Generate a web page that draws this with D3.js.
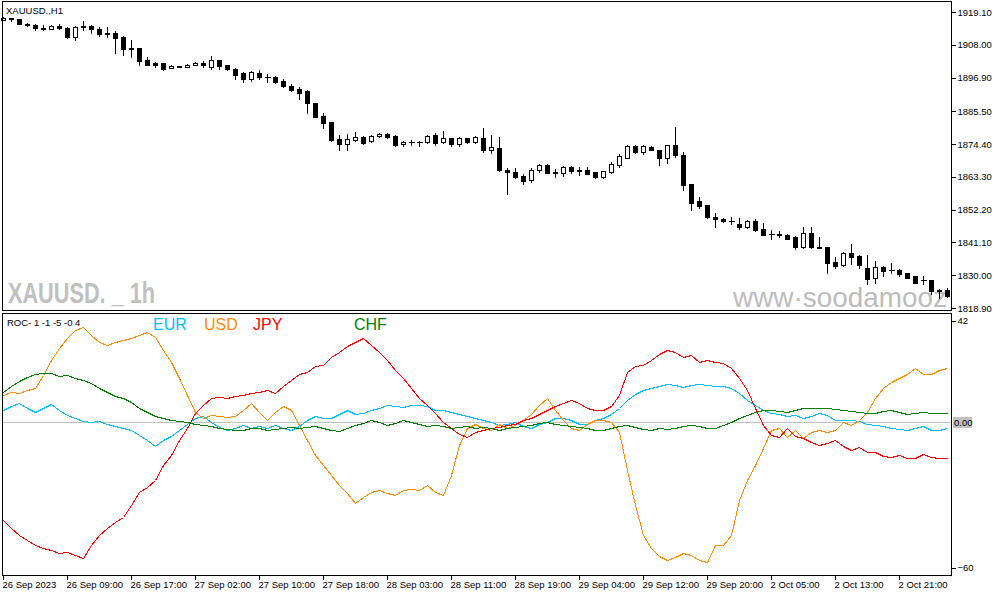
<!DOCTYPE html>
<html><head><meta charset="utf-8">
<script src="https://cdn.jsdelivr.net/npm/d3@7"></script>
<style>
body{margin:0;background:#fff}
svg{display:block}
text{font-family:"Liberation Sans",Arial,sans-serif}
</style>
</head><body>
<svg id="c" width="997" height="596"></svg>
<script>
// ---------------- DATA ----------------
const timeLabels = ["26 Sep 2023","26 Sep 09:00","26 Sep 17:00","27 Sep 02:00","27 Sep 10:00","27 Sep 18:00","28 Sep 03:00","28 Sep 11:00","28 Sep 19:00","29 Sep 04:00","29 Sep 12:00","29 Sep 20:00","2 Oct 05:00","2 Oct 13:00","2 Oct 21:00"];
const priceTicks = [1919.10,1908.00,1896.90,1885.50,1874.40,1863.30,1852.20,1841.10,1830.00,1818.90];
const rocTicks = [42,-60];

const open = [1916.5,1917.0,1916.6,1915.0,1914.6,1913.6,1913.4,1914.4,1913.8,1910.5,
1914.0,1914.2,1913.3,1911.6,1912.1,1910.7,1906.7,1906.9,1902.8,1901.7,
1901.7,1900.1,1900.8,1900.6,1901.3,1901.9,1900.6,1902.9,1901.0,1899.9,
1898.4,1896.4,1898.6,1897.1,1897.1,1895.9,1894.1,1893.2,1892.3,1888.2,
1883.9,1881.8,1876.1,1874.3,1875.9,1876.8,1875.4,1877.1,1877.8,1877.2,
1874.3,1875.0,1875.1,1875.1,1877.4,1875.1,1876.3,1874.4,1876.3,1875.1,
1876.6,1872.5,1873.0,1865.5,1864.8,1863.5,1862.1,1865.5,1867.3,1864.6,
1864.6,1866.6,1865.2,1865.7,1864.8,1863.2,1865.0,1867.3,1869.8,1873.8,
1871.8,1873.5,1872.4,1869.7,1874.0,1870.6,1860.9,1855.0,1853.7,1849.8,
1848.9,1848.5,1847.3,1846.4,1848.5,1845.5,1844.1,1843.8,1843.5,1842.8,
1839.4,1844.4,1839.6,1839.4,1834.5,1833.3,1837.4,1836.5,1832.4,1829.0,
1832.9,1831.6,1831.8,1830.6,1829.6,1828.4,1828.4,1825.1,1825.0];
const high = [1917.3,1917.2,1916.8,1915.4,1915.0,1914.6,1914.7,1914.9,1914.0,1914.2,
1916.2,1914.6,1913.9,1913.9,1912.8,1911.0,1909.6,1907.0,1903.8,1902.2,
1902.0,1901.3,1900.9,1901.6,1902.3,1902.6,1904.1,1903.0,1901.2,1900.0,
1898.9,1899.1,1899.3,1898.0,1897.3,1896.5,1894.7,1893.8,1892.7,1888.2,
1884.8,1881.8,1877.5,1877.8,1878.4,1877.1,1877.3,1878.0,1878.2,1877.5,
1875.5,1875.8,1875.5,1877.4,1878.1,1878.8,1876.5,1876.9,1876.5,1877.2,
1880.0,1877.5,1876.8,1866.2,1866.2,1864.1,1866.4,1867.6,1867.5,1866.0,
1867.1,1867.0,1866.6,1866.5,1865.0,1865.4,1868.3,1871.1,1874.0,1874.0,
1874.0,1873.6,1872.5,1874.1,1880.1,1871.7,1861.0,1856.4,1853.8,1850.9,
1849.4,1849.6,1849.2,1848.7,1849.0,1847.6,1845.3,1844.8,1844.1,1843.3,
1846.2,1846.2,1843.1,1839.5,1836.2,1838.0,1840.6,1836.7,1836.9,1834.8,
1833.2,1834.1,1832.0,1830.7,1829.7,1829.6,1828.5,1825.4,1825.6];
const low = [1916.3,1915.9,1914.9,1914.5,1913.0,1912.9,1913.2,1913.3,1910.2,1909.7,
1913.0,1912.1,1911.1,1910.5,1905.3,1904.6,1903.9,1901.1,1901.0,1900.6,
1899.4,1900.0,1900.4,1900.4,1901.0,1900.4,1899.9,1899.9,1899.4,1896.5,
1895.4,1895.7,1896.4,1895.4,1895.1,1893.8,1892.4,1889.7,1884.8,1883.6,
1879.9,1875.5,1872.5,1872.5,1875.6,1874.4,1875.1,1876.8,1876.6,1873.7,
1873.9,1874.1,1873.7,1874.9,1874.1,1874.6,1873.7,1873.9,1874.6,1874.6,
1871.8,1871.4,1865.4,1857.6,1862.8,1860.8,1861.7,1865.0,1864.5,1863.1,
1863.6,1864.7,1864.0,1864.2,1862.9,1862.9,1864.5,1866.5,1869.6,1871.4,
1870.9,1872.3,1867.4,1867.9,1870.1,1858.8,1852.1,1852.8,1849.3,1846.2,
1847.9,1847.3,1845.7,1846.1,1844.9,1843.5,1842.4,1843.1,1842.2,1839.0,
1839.2,1839.2,1839.1,1830.8,1832.6,1833.1,1833.8,1832.3,1827.0,1827.3,
1829.9,1830.9,1829.9,1829.0,1827.2,1827.0,1823.6,1822.2,1822.5];
const close = [1917.0,1916.6,1915.0,1914.6,1913.6,1913.4,1914.4,1913.6,1910.5,1914.0,
1914.2,1913.3,1911.6,1911.9,1910.3,1906.7,1906.9,1902.6,1901.3,1901.1,
1899.9,1900.8,1900.6,1901.3,1901.8,1901.1,1902.8,1900.8,1899.9,1897.9,
1896.4,1898.8,1897.1,1897.0,1895.4,1894.1,1892.7,1891.8,1888.2,1883.7,
1881.6,1875.8,1874.3,1876.1,1876.8,1874.8,1877.0,1877.8,1876.9,1874.1,
1875.0,1875.1,1875.0,1877.2,1874.9,1876.3,1874.4,1876.3,1875.1,1876.7,
1872.5,1873.4,1865.5,1864.8,1863.2,1861.9,1865.7,1867.3,1864.6,1864.8,
1866.6,1865.2,1865.5,1864.4,1863.2,1865.2,1867.8,1870.5,1873.6,1871.6,
1873.6,1872.4,1869.7,1874.0,1870.6,1860.6,1854.6,1853.4,1849.6,1848.9,
1848.3,1848.3,1846.4,1848.5,1845.3,1843.7,1844.0,1843.5,1842.4,1839.4,
1844.4,1839.4,1839.2,1834.0,1833.1,1837.4,1836.3,1833.6,1828.8,1832.9,
1831.5,1831.8,1830.3,1829.2,1827.5,1828.3,1824.8,1824.8,1822.8];

const rocEUR = [4.6,6.1,7.3,5.4,3.8,5.4,6.9,4.6,2.6,1.4,
0.2,-0.2,0.2,-0.9,-1.7,-2.5,-3.3,-5.3,-7.2,-9.6,
-7.2,-5.7,-3.3,-0.9,1.4,2.2,-0.2,-2.1,-3.3,-2.5,
-1.3,-2.5,-1.7,-2.5,-1.3,-2.5,-3.3,-1.7,0.6,2.2,
1.4,1.4,3.0,4.6,3.0,3.4,4.6,5.4,6.5,6.1,
5.7,6.5,6.5,6.1,4.6,4.6,3.8,3.0,2.2,1.4,
0.6,-0.2,-1.3,-0.9,-0.2,-1.7,-2.5,-0.9,-0.2,1.4,
1.4,0.6,-0.9,-0.9,0.6,1.4,3.0,5.4,8.5,10.9,
12.4,13.2,14.0,14.8,14.4,13.6,14.4,14.8,14.4,14.0,
14.0,13.2,11.3,8.5,6.5,4.6,3.4,3.0,2.2,2.6,
1.4,2.2,3.4,2.6,0.6,0.6,0.6,0.2,-0.9,-1.3,
-1.7,-2.5,-2.9,-3.3,-2.5,-1.7,-3.3,-3.3,-2.5];
const rocUSD = [10.5,11.7,11.3,12.4,13.2,18.4,24.3,29.0,32.9,36.1,
37.3,34.1,31.4,30.2,31.4,32.1,32.9,34.1,35.3,33.3,
28.2,23.5,17.2,10.5,3.8,1.4,2.6,2.2,1.8,2.2,
4.6,7.3,3.8,0.6,3.8,6.1,4.6,-1.3,-7.2,-13.2,
-17.1,-21.0,-25.0,-28.1,-32.1,-29.7,-27.7,-26.9,-28.1,-28.9,
-26.9,-26.5,-26.9,-25.0,-27.7,-28.9,-21.0,-9.2,-2.5,-0.9,
-2.5,-3.3,-0.9,-2.5,-1.3,0.6,3.0,6.5,9.3,4.6,
0.6,-2.5,-3.3,-0.9,0.6,0.6,-0.2,-4.1,-19.1,-32.8,
-44.7,-49.8,-52.9,-54.5,-53.3,-51.8,-52.5,-54.5,-55.3,-48.6,
-48.6,-44.7,-30.9,-23.0,-17.1,-10.4,-3.3,-2.5,-6.1,-3.3,
-6.5,-4.1,-3.3,-4.1,-3.3,-0.2,-1.3,0.6,3.8,9.3,
13.2,15.6,17.2,18.7,21.1,18.7,18.7,20.3,21.1];
const rocJPY = [-38.8,-41.9,-44.7,-46.6,-48.6,-49.8,-50.6,-51.8,-51.4,-52.5,
-53.7,-48.6,-44.7,-41.9,-39.5,-37.6,-32.9,-27.7,-25.8,-23.0,
-17.1,-13.2,-7.2,-2.5,3.4,6.5,9.3,9.7,9.3,10.1,
10.5,11.3,11.7,12.4,11.3,14.0,16.4,18.7,19.5,21.9,
22.3,25.4,27.4,29.8,31.4,32.9,30.2,27.4,24.3,20.3,
17.2,13.2,9.3,6.5,3.4,-0.2,-2.5,-4.9,-6.1,-4.1,
-3.3,-2.5,-2.1,-1.3,-0.9,0.6,1.4,3.0,4.6,6.1,
7.3,8.5,7.3,5.4,4.6,4.6,6.1,10.5,19.5,21.9,
22.3,24.3,26.6,28.2,27.4,25.4,26.2,23.5,24.3,23.5,
23.1,21.1,17.2,12.4,5.4,-1.3,-5.3,-6.1,-2.5,-5.7,
-6.5,-8.0,-9.2,-8.4,-7.2,-9.6,-11.2,-10.0,-12.0,-12.0,
-13.6,-13.9,-13.2,-14.3,-14.3,-12.8,-13.9,-14.3,-14.3];
const rocCHF = [11.7,14.0,16.0,17.6,18.7,19.1,19.1,18.0,18.4,17.2,
16.4,15.2,13.2,11.7,10.1,9.3,7.7,5.4,3.8,2.2,
1.4,0.6,0.2,-0.2,-0.9,-1.3,-1.7,-2.5,-2.9,-3.3,
-3.3,-2.5,-2.5,-3.3,-2.9,-2.5,-2.1,-2.5,-2.1,-1.7,
-2.5,-3.3,-3.7,-2.5,-1.3,-0.6,0.6,-0.2,-1.3,-0.6,
0.6,-0.2,-0.9,-1.7,-1.3,-1.7,-2.5,-2.1,-1.7,-2.5,
-2.1,-2.5,-3.3,-2.5,-2.1,-1.7,-1.3,-0.6,-0.2,-0.9,
-1.3,-1.7,-2.1,-2.5,-3.3,-3.3,-2.5,-1.7,-1.3,-2.1,
-2.9,-3.3,-2.5,-2.9,-2.5,-1.7,-1.3,-1.7,-2.5,-2.5,
-1.3,-0.2,1.4,2.6,3.8,4.6,4.6,4.2,3.8,4.6,
5.4,5.4,5.4,5.4,5.0,4.6,4.2,3.8,3.4,3.4,
4.2,4.6,3.8,3.0,3.4,3.8,3.4,3.4,3.4];

const seriesNames = ["EUR","USD","JPY","CHF"];
const seriesColors = ["#00bfff","#ff8c00","#ff0000","#008000"];

// ---------------- CHART ----------------
const svg = d3.select("#c");
const n = open.length;
const x = d3.scaleLinear().domain([0, n - 1]).range([3, 947]);
const yP = d3.scaleLinear().domain([1818.9, 1919.1]).range([308, 12]);
const yR = d3.scaleLinear().domain([-60, 42]).range([574, 315]);

// watermarks
svg.append("text").attr("x", 8).attr("y", 303)
  .attr("font-family", "'Liberation Sans Narrow','Liberation Sans',Arial,sans-serif")
  .attr("font-weight", "bold").attr("font-size", 29).attr("fill", "#c0c0c0")
  .attr("textLength", 147).attr("lengthAdjust", "spacingAndGlyphs")
  .text("XAUUSD. _ 1h");
svg.append("text").attr("x", 733).attr("y", 307)
  .attr("font-size", 28).attr("fill", "#bcbcbc")
  .attr("textLength", 214).attr("lengthAdjust", "spacingAndGlyphs")
  .text("www·soodamooz");

// zero line
svg.append("line").attr("x1", 2).attr("x2", 951)
  .attr("y1", Math.round(yR(0)) + 0.5).attr("y2", Math.round(yR(0)) + 0.5)
  .attr("stroke", "#c0c0c0").attr("shape-rendering", "crispEdges");

// candles
const cg = svg.append("g").attr("shape-rendering", "crispEdges");
d3.range(n).forEach(i => {
  const cx = Math.round(x(i)) + 0.5;
  cg.append("line").attr("x1", cx).attr("x2", cx)
    .attr("y1", Math.round(yP(high[i]))).attr("y2", Math.round(yP(low[i])) + 1)
    .attr("stroke", "#000");
  const top = Math.round(yP(Math.max(open[i], close[i])));
  const bot = Math.round(yP(Math.min(open[i], close[i])));
  const bull = close[i] > open[i];
  if (bot - top < 1) {
    cg.append("line").attr("x1", cx - 2.5).attr("x2", cx + 3.5)
      .attr("y1", top + 0.5).attr("y2", top + 0.5).attr("stroke", "#000");
  } else {
    cg.append("rect").attr("x", cx - 2).attr("y", top + 0.5)
      .attr("width", 4).attr("height", bot - top)
      .attr("fill", bull ? "#fff" : "#000").attr("stroke", "#000");
  }
});

// ROC lines
const allSeries = [rocEUR, rocUSD, rocJPY, rocCHF];
const line = d3.line().x((d, i) => Math.round(x(i)) + 0.5).y(d => Math.round(yR(d)) + 0.5);
allSeries.forEach((s, k) => {
  svg.append("path").datum(s).attr("d", line).attr("fill", "none")
    .attr("stroke", seriesColors[k]).attr("stroke-width", 1)
    .attr("shape-rendering", "crispEdges");
});

// panel borders
svg.append("rect").attr("x", 2.5).attr("y", 1.5).attr("width", 949).attr("height", 309)
  .attr("fill", "none").attr("stroke", "#000").attr("shape-rendering", "crispEdges");
svg.append("rect").attr("x", 2.5).attr("y", 313.5).attr("width", 949).attr("height", 262)
  .attr("fill", "none").attr("stroke", "#000").attr("shape-rendering", "crispEdges");

// price axis
const pa = svg.append("g").attr("transform", "translate(951.5,0)")
  .call(d3.axisRight(yP).tickValues(priceTicks).tickSize(4).tickPadding(2).tickFormat(d3.format(".2f")));
pa.select(".domain").remove();
pa.selectAll("text").attr("font-size", 9.5).attr("font-family", "'Liberation Sans',Arial,sans-serif").attr("fill", "#000");
pa.selectAll("line").attr("stroke", "#000").attr("shape-rendering", "crispEdges");

// ROC axis
const ra = svg.append("g").attr("transform", "translate(951.5,0)")
  .call(d3.axisRight(yR).tickValues(rocTicks).tickSize(4).tickPadding(2).tickFormat(d3.format("d")));
ra.select(".domain").remove();
ra.selectAll(".tick").attr("transform", d => `translate(0,${yR(d) + (d > 0 ? 6 : -6)})`);
ra.selectAll("text").attr("font-size", 9.5).attr("font-family", "'Liberation Sans',Arial,sans-serif").attr("fill", "#000");
ra.selectAll("line").attr("stroke", "#000").attr("shape-rendering", "crispEdges");

// zero label
const zy = Math.round(yR(0));
svg.append("rect").attr("x", 953).attr("y", zy - 5).attr("width", 19).attr("height", 11).attr("fill", "#c0c0c0");
svg.append("text").attr("x", 954).attr("y", zy + 4).attr("font-size", 9.5).attr("fill", "#000").text(d3.format(".2f")(0));

// time axis
const ta = svg.append("g").attr("transform", "translate(0,575.5)")
  .call(d3.axisBottom(x).tickValues(d3.range(0, n, 8)).tickSize(4)
    .tickFormat((d, i) => timeLabels[i]));
ta.select(".domain").remove();
ta.selectAll("line").attr("stroke", "#000").attr("shape-rendering", "crispEdges");
ta.selectAll("text").attr("text-anchor", "start").attr("x", -1).attr("y", 12).attr("dy", null)
  .attr("font-size", 9.5).attr("font-family", "'Liberation Sans',Arial,sans-serif").attr("fill", "#000");

// titles
svg.append("text").attr("x", 6).attr("y", 14).attr("font-size", 9.5).attr("fill", "#000").text("XAUUSD.,H1");
svg.append("text").attr("x", 7).attr("y", 326).attr("font-size", 9.5).attr("fill", "#000").text("ROC- 1 -1 -5 -0 4");
const legendX = [153, 204, 253, 354];
seriesNames.forEach((nm, k) => {
  svg.append("text").attr("x", legendX[k]).attr("y", 330).attr("font-size", 16)
    .attr("fill", seriesColors[k]).text(nm);
});
</script>
</body></html>
